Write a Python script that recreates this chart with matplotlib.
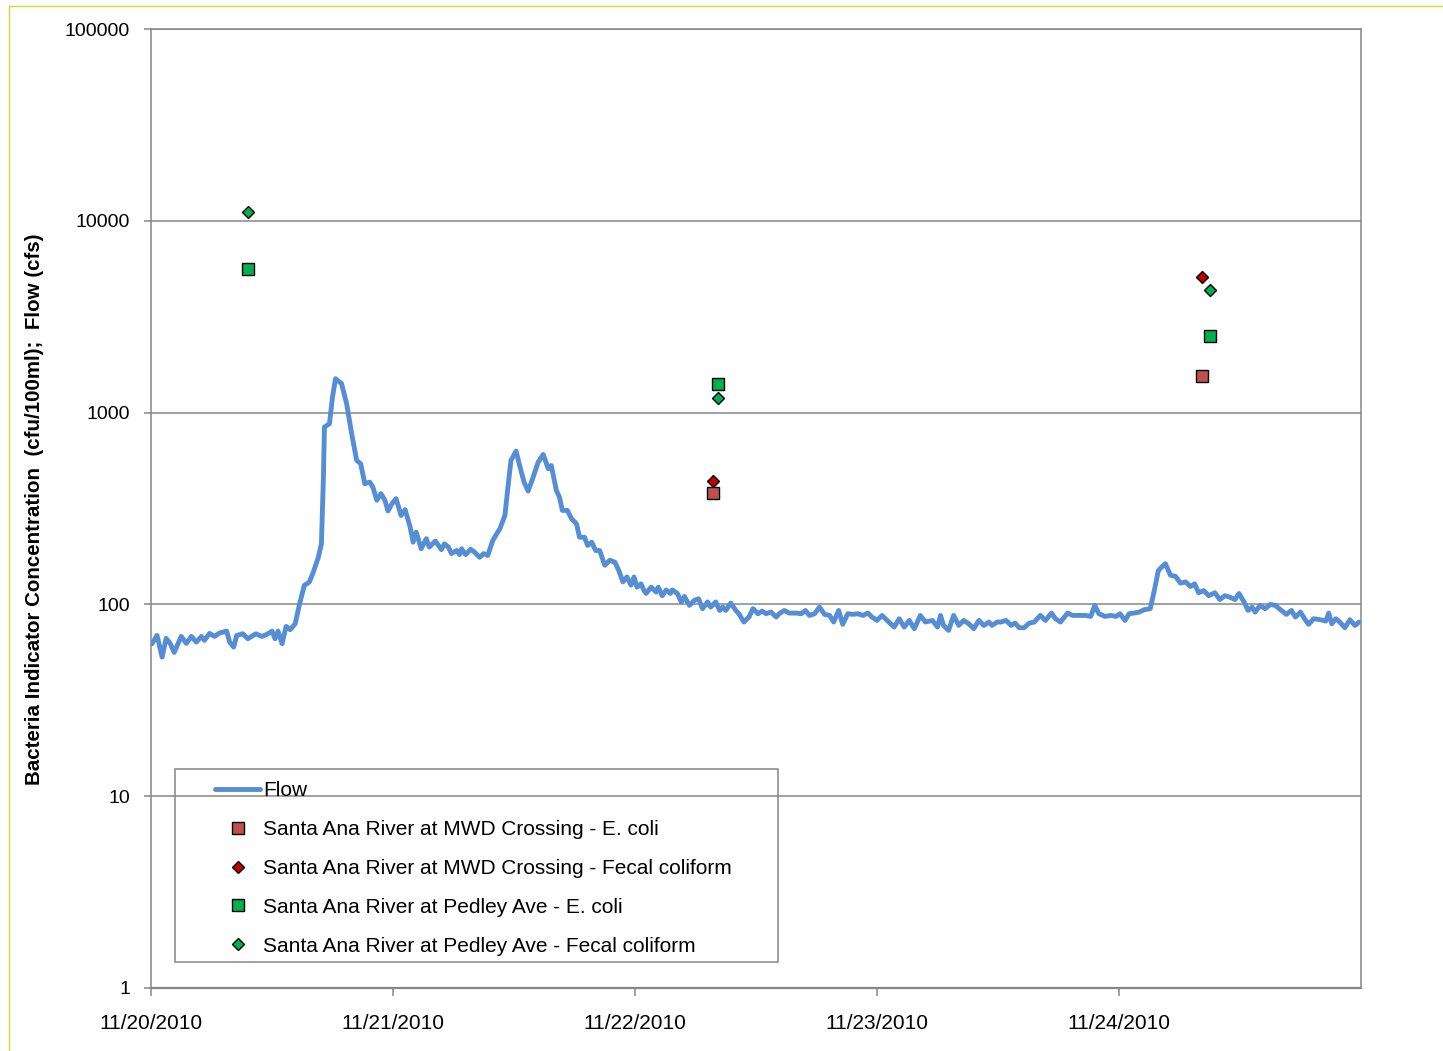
import numpy as np
import pandas as pd
import matplotlib
matplotlib.use("Agg")
import matplotlib.pyplot as plt
from matplotlib.lines import Line2D
from matplotlib.patches import Rectangle
from matplotlib.ticker import FixedLocator, FixedFormatter, NullLocator

plt.rcParams["font.family"] = ["Liberation Sans", "DejaVu Sans"]

GRAY = "#868686"
FLOW_BLUE = "#558ED5"

# ── data (hours after 11/20/2010 00:00) ───────────────────────────────────────
flow_hours = [
    0.1, 0.6, 1.1, 1.5, 1.9, 2.3, 3.0, 3.5, 4.0, 4.5, 5.0, 5.3, 5.8, 6.3, 6.8,
    7.5, 7.8, 8.2, 8.5, 9.1, 9.6, 10.4, 11.0, 11.5, 12.0, 12.3, 12.6, 13.0, 13.4,
    13.8, 14.3, 14.7, 15.2, 15.7, 16.1, 16.6, 16.9, 17.1, 17.2, 17.7, 18.0, 18.3,
    18.9, 19.4, 19.9, 20.4, 20.8, 21.2, 21.7, 22.0, 22.4, 22.8, 23.2, 23.5, 23.9,
    24.3, 24.8, 25.2, 25.7, 26.0, 26.3, 26.8, 27.3, 27.6, 28.2, 28.8, 29.1, 29.5,
    29.8, 30.3, 30.6, 30.8, 31.2, 31.7, 32.1, 32.6, 33.0, 33.4, 33.9, 34.6, 35.1,
    35.4, 35.7, 36.2, 36.6, 37.0, 37.4, 37.9, 38.4, 38.9, 39.4, 39.7, 40.2, 40.5,
    40.8, 41.3, 41.7, 42.2, 42.5, 43.0, 43.3, 43.7, 44.1, 44.5, 45.0, 45.5, 46.0,
    46.4, 46.8, 47.2, 47.6, 47.9, 48.2, 48.6, 48.9, 49.1, 49.6, 50.1, 50.3, 50.7,
    51.1, 51.5, 51.7, 52.2, 52.6, 52.9, 53.4, 53.9, 54.3, 54.7, 55.2, 55.5, 56.0,
    56.4, 56.7, 57.0, 57.5, 58.0, 58.3, 58.8, 59.3, 59.7, 60.2, 60.6, 61.0, 61.5,
    62.0, 62.3, 62.8, 63.3, 64.0, 64.5, 64.9, 65.3, 65.8, 66.3, 66.8, 67.3, 67.7,
    68.2, 68.6, 69.1, 69.6, 70.1, 70.6, 71.1, 71.5, 72.0, 72.5, 73.0, 73.7, 74.2,
    74.7, 75.2, 75.7, 76.3, 76.8, 77.5, 78.0, 78.3, 78.6, 79.1, 79.6, 80.1, 80.6,
    81.1, 81.6, 82.1, 82.6, 83.1, 83.4, 83.9, 84.3, 84.8, 85.3, 85.7, 86.1, 86.6,
    87.1, 87.6, 88.2, 88.7, 89.3, 89.7, 90.2, 90.9, 91.4, 92.0, 92.7, 93.2, 93.6,
    94.0, 94.6, 95.2, 95.7, 96.1, 96.6, 97.0, 97.5, 98.0, 98.5, 99.1, 99.5, 99.9,
    100.2, 100.6, 101.1, 101.6, 102.1, 102.6, 103.1, 103.5, 103.9, 104.4, 104.9,
    105.5, 106.0, 106.5, 107.0, 107.5, 107.9, 108.4, 108.8, 109.2, 109.5, 110.0,
    110.5, 111.0, 111.5, 112.1, 112.6, 113.1, 113.5, 114.0, 114.4, 114.8, 115.3,
    116.0, 116.5, 116.8, 117.1, 117.5, 117.9, 118.4, 118.9, 119.4, 119.8,
]
flow_cfs = [
    62.4, 68.9, 53.1, 66.5, 62.6, 56.2, 68.1, 62.6, 68.1, 63.6, 68.1, 64.9, 70.6,
    68.1, 70.9, 72.6, 63.6, 59.9, 68.9, 70.3, 66.2, 70.3, 68.1, 69.8, 72.6, 66.2,
    72.6, 62.4, 76.8, 73.8, 79.3, 98.8, 125.6, 130.7, 147.4, 176.4, 207, 461, 840,
    875, 1205, 1502, 1415, 1113, 776, 563, 541, 426, 434, 409, 349, 378, 349, 307,
    335, 356, 291, 312, 253, 211, 238, 195, 220, 199, 214, 193, 207, 199, 184,
    191, 182, 195, 182, 194, 187, 176, 184, 180, 216, 248, 291, 409, 563, 630,
    520, 434, 390, 461, 552, 605, 510, 530, 393, 363, 309, 309, 280, 263, 224,
    224, 203, 211, 191, 191, 160, 170, 166, 150, 131, 139, 126, 139, 123, 128,
    118, 114, 123, 116, 123, 111, 119, 114, 119, 114, 102.8, 110, 98.8, 105, 107,
    95, 103, 96.8, 103, 93, 96.8, 93, 101.6, 93, 89.4, 80.9, 85.9, 95, 89.4, 92.3,
    89.4, 91.2, 85.9, 89.4, 93, 90.1, 90.1, 89.4, 93, 87.6, 89.4, 96.8, 88.7,
    87.6, 80.9, 93, 78.7, 89.4, 88.7, 89.4, 87.6, 90.1, 85.9, 82.5, 87.6, 82.5,
    76.2, 84.2, 76.2, 82.5, 74.7, 87.6, 80.9, 82.5, 76.2, 87.6, 77.7, 73.2, 87.6,
    77.7, 82.5, 79.3, 74.7, 82.5, 77.7, 80.9, 77.7, 80.9, 80.9, 82.5, 77.7, 79.9,
    75.6, 75.6, 79.9, 80.9, 87.6, 82.5, 90.1, 84.2, 80.9, 90.1, 87.6, 87.6, 87.6,
    86.6, 98.8, 89.4, 86.6, 87.6, 86.6, 89.4, 82.5, 89.4, 90.1, 91.2, 93.8, 95,
    118, 150, 156, 163, 142, 140, 129, 131, 124, 128, 115, 118, 111, 115, 106,
    111, 109, 106, 114, 103, 93, 96.8, 91.2, 98.8, 95, 100, 98.8, 93, 88.7, 93,
    85.9, 91.2, 84.2, 78.7, 84.2, 83.2, 81.8, 90.1, 79.3, 84.2, 80.9, 75.6, 83.2,
    77.7, 80.9,
]

mwd_hours = [55.7, 104.2]
mwd_ecoli = [380, 1550]
mwd_fecal = [440, 5090]

pedley_hours = [9.6, 56.2, 105.0]
pedley_ecoli = [5600, 1410, 2510]
pedley_fecal = [11100, 1190, 4360]

y_ticks = [1, 10, 100, 1000, 10000, 100000]
start = pd.Timestamp("2010-11-20")
end = pd.Timestamp("2010-11-25")


def to_time(hours):
    return start + pd.to_timedelta(np.asarray(hours, float), unit="h")


# ── figure ────────────────────────────────────────────────────────────────────
fig = plt.figure(figsize=(14.43, 10.51), dpi=100, facecolor="white")
ax = fig.add_axes([151/1443, 1 - 988/1051, 1210/1443, 959/1051])

ax.plot(to_time(flow_hours), flow_cfs, color=FLOW_BLUE, lw=3.5,
        solid_joinstyle="round", solid_capstyle="round", zorder=3, label="Flow")
ax.plot(to_time(mwd_hours), mwd_ecoli, "s", ms=9, mfc="#C0504D", mec="black",
        mew=1.0, zorder=5, label="Santa Ana River at MWD Crossing - E. coli")
ax.plot(to_time(mwd_hours), mwd_fecal, "D", ms=6.5, mfc="#C00000", mec="black",
        mew=1.0, zorder=5, label="Santa Ana River at MWD Crossing - Fecal coliform")
ax.plot(to_time(pedley_hours), pedley_ecoli, "s", ms=9, mfc="#00B050", mec="black",
        mew=1.0, zorder=5, label="Santa Ana River at Pedley Ave - E. coli")
ax.plot(to_time(pedley_hours), pedley_fecal, "D", ms=6.5, mfc="#00B050", mec="black",
        mew=1.0, zorder=5, label="Santa Ana River at Pedley Ave - Fecal coliform")

ax.set_yscale("log")
ax.set_ylim(1, 100000)
ax.yaxis.set_major_locator(FixedLocator(y_ticks))
ax.yaxis.set_major_formatter(FixedFormatter([str(v) for v in y_ticks]))
ax.yaxis.set_minor_locator(NullLocator())
ax.grid(axis="y", color=GRAY, lw=1.1, zorder=0)

days = list(pd.date_range(start, end - pd.Timedelta(days=1)))
ax.set_xlim(start, end)
ax.set_xticks(days)
ax.set_xticklabels([d.strftime("%-m/%-d/%Y") for d in days])

for s in ax.spines.values():
    s.set_color(GRAY)
    s.set_linewidth(1.1)
ax.spines["bottom"].set_linewidth(1.6)

ax.tick_params(axis="y", direction="out", length=5, width=1.1, color=GRAY,
               labelsize=14, pad=10)
ax.tick_params(axis="x", direction="out", length=6, width=1.1, color=GRAY,
               labelsize=15, pad=13)

fig.text(35/1443, 1 - 509/1051,
         "Bacteria Indicator Concentration  (cfu/100ml);  Flow (cfs)",
         rotation=90, ha="center", va="center", fontsize=14.8, fontweight="bold")

# legend box drawn separately so the entries can sit where the original has them
ax.add_patch(Rectangle((0.0198, 0.0271), 0.4984, 0.2013, transform=ax.transAxes,
                       fill=False, edgecolor=GRAY, lw=1.1, zorder=6))
ax.legend(loc="upper left", bbox_to_anchor=(0.0529, 0.2155), borderaxespad=0,
          borderpad=0, fontsize=15, frameon=False, handlelength=2.16,
          handletextpad=0.15, labelspacing=0.95)

# outer chart border
fig.add_artist(Line2D([8.5/1443, 8.5/1443], [0, 1 - 6/1051], color="#D6D640", lw=1.0))
fig.add_artist(Line2D([8.5/1443, 1], [1 - 6/1051, 1 - 6/1051], color="#D6D640", lw=1.0))

fig.savefig("out.png", dpi=100)
